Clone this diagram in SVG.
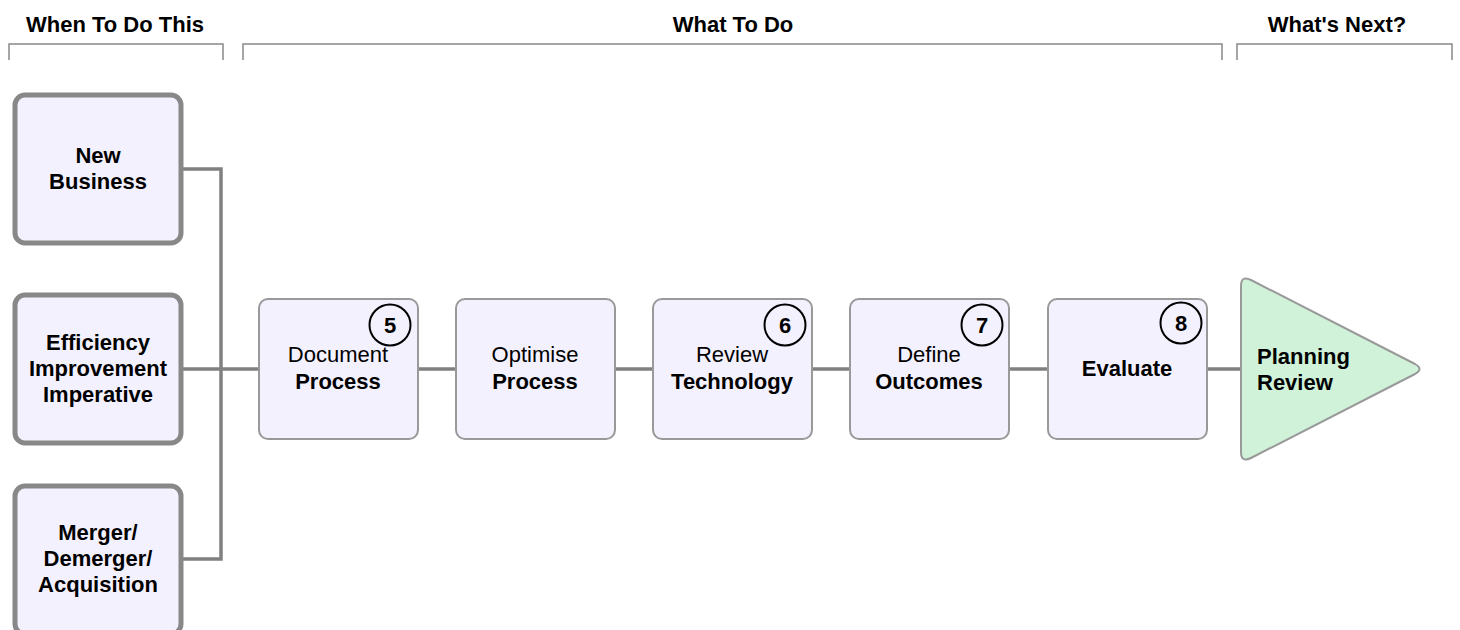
<svg xmlns="http://www.w3.org/2000/svg" width="1460" height="630" viewBox="0 0 1460 630">
<style>
text{font-family:"Liberation Sans",Arial,Helvetica,sans-serif;fill:#000;text-anchor:middle}
.h{font-size:22px;font-weight:bold}
.b{font-size:22px;font-weight:bold}
.r{font-size:22px}
.trig{fill:#f4f1fe;stroke:#888;stroke-width:5}
.step{fill:#f4f1fe;stroke:#999;stroke-width:2}
.badge{fill:none;stroke:#000;stroke-width:2}
.num{font-size:22px;font-weight:bold}
.br{fill:none;stroke:#888;stroke-width:1.5}
.c{fill:none;stroke:#808080;stroke-width:3.5}
</style>
<g id="headers">
<text class="h" x="115" y="32">When To Do This</text>
<text class="h" x="733" y="32">What To Do</text>
<text class="h" x="1337" y="32">What's Next?</text>
<path class="br" d="M9,60 V44 H223 V60"/>
<path class="br" d="M243,60 V44 H1222 V60"/>
<path class="br" d="M1237,60 V44 H1452 V60"/>
</g>
<g id="connectors">
<path class="c" d="M182,169 H221 V559 H182"/>
<path class="c" d="M182,369 H260"/>
<path class="c" d="M418,369 H456"/>
<path class="c" d="M615,369 H653"/>
<path class="c" d="M812,369 H850"/>
<path class="c" d="M1009,369 H1047"/>
<path class="c" d="M1207,369 H1242"/>
</g>
<g id="new-business">
<rect class="trig" x="15" y="95" width="166" height="148" rx="10"/>
<text class="b" x="98" y="163">New</text>
<text class="b" x="98" y="189">Business</text>
</g>
<g id="efficiency">
<rect class="trig" x="15" y="295" width="166" height="148" rx="10"/>
<text class="b" x="98" y="350">Efficiency</text>
<text class="b" x="98" y="376">Improvement</text>
<text class="b" x="98" y="402">Imperative</text>
</g>
<g id="merger">
<rect class="trig" x="15" y="486" width="166" height="148" rx="10"/>
<text class="b" x="98" y="540">Merger/</text>
<text class="b" x="98" y="566">Demerger/</text>
<text class="b" x="98" y="592">Acquisition</text>
</g>
<g id="document-process">
<rect class="step" x="259" y="299" width="159" height="140" rx="9"/>
<text class="r" x="338" y="362">Document</text>
<text class="b" x="338" y="389">Process</text>
<circle class="badge" cx="390" cy="325" r="20.5"/>
<text class="num" x="390" y="333">5</text>
</g>
<g id="optimise-process">
<rect class="step" x="456" y="299" width="159" height="140" rx="9"/>
<text class="r" x="535" y="362">Optimise</text>
<text class="b" x="535" y="389">Process</text>
</g>
<g id="review-technology">
<rect class="step" x="653" y="299" width="159" height="140" rx="9"/>
<text class="r" x="732" y="362">Review</text>
<text class="b" x="732" y="389">Technology</text>
<circle class="badge" cx="785" cy="325" r="20.5"/>
<text class="num" x="785" y="333">6</text>
</g>
<g id="define-outcomes">
<rect class="step" x="850" y="299" width="159" height="140" rx="9"/>
<text class="r" x="929" y="362">Define</text>
<text class="b" x="929" y="389">Outcomes</text>
<circle class="badge" cx="982" cy="325" r="20.5"/>
<text class="num" x="982" y="333">7</text>
</g>
<g id="evaluate">
<rect class="step" x="1048" y="299" width="159" height="140" rx="9"/>
<text class="b" x="1127" y="376">Evaluate</text>
<circle class="badge" cx="1181" cy="323" r="20.5"/>
<text class="num" x="1181" y="331">8</text>
</g>
<g id="planning-review">
<path d="M1241,286 Q1241,275 1251,280 L1415,364 Q1424,369 1415,374 L1251,458 Q1241,463 1241,452 Z" fill="#cff2d9" stroke="#999" stroke-width="2"/>
<text class="b" x="1257" y="364" style="text-anchor:start">Planning</text>
<text class="b" x="1257" y="390" style="text-anchor:start">Review</text>
</g>
</svg>
